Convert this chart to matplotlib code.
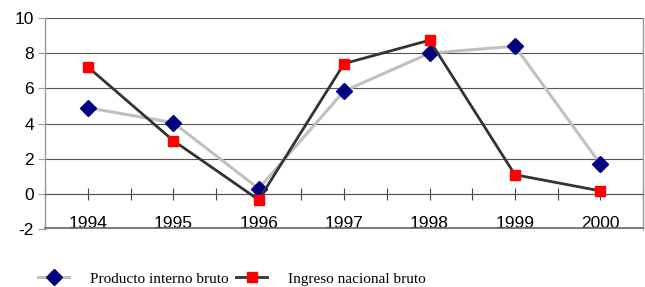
import numpy as np
import matplotlib
matplotlib.use("Agg")
from matplotlib import pyplot as plt
from matplotlib.lines import Line2D

years = ['1994', '1995', '1996', '1997', '1998', '1999', '2000']
pib = [4.9, 4.05, 0.3, 5.85, 8.0, 8.4, 1.7]
inb = [7.22, 3.03, -0.34, 7.41, 8.74, 1.09, 0.17]
y_ticks = [-2, 0, 2, 4, 6, 8, 10]

fig = plt.figure(figsize=(6.45, 2.87), dpi=100)
ax = fig.add_axes([0.07, 0.202, 0.927, 0.735])

x = np.arange(len(years))
ax.plot(x, pib, color='#c0c0c0', lw=2.2, marker='D', ms=8.5,
        mfc='#000080', mec='#000080', label='Producto interno bruto', zorder=3)
ax.plot(x, inb, color='#333333', lw=2.0, marker='s', ms=6.5,
        mfc='#ff0000', mec='#ff0000', label='Ingreso nacional bruto', zorder=4)

ax.set_xlim(-0.5, len(years) - 0.5)
ax.set_ylim(y_ticks[0], y_ticks[-1])
ax.set_yticks(y_ticks)
ax.set_yticklabels([str(v) for v in y_ticks], fontfamily='Liberation Sans', fontsize=12.5)
ax.yaxis.grid(True, color='#555555', lw=0.8)
ax.set_axisbelow(True)
ax.tick_params(axis='y', length=5, color='#999999', pad=3)
# bottom frame line of the plot area
ax.add_line(Line2D([0, 1], [0.003, 0.003], transform=ax.transAxes,
                   color='#666666', lw=1.2, clip_on=False, zorder=5))

# category axis crosses at zero
ax.spines['bottom'].set_position(('data', 0))
ax.spines['bottom'].set_color('#555555')
ax.spines['bottom'].set_linewidth(0.8)
ax.set_xticks(np.arange(-0.5, len(years), 0.5))
ax.set_xticklabels([])
ax.tick_params(axis='x', direction='inout', length=8, color='#444444', width=0.8)
for i, yr in enumerate(years):
    ax.annotate(yr, xy=(x[i], 0), xycoords='data', xytext=(0, -21),
                textcoords='offset points', ha='center', va='center',
                fontfamily='Liberation Sans', fontsize=12.5)
ax.spines['top'].set_visible(False)
for s in ['left', 'right']:
    ax.spines[s].set_color('#999999')
    ax.spines[s].set_linewidth(1.0)

fig.legend(loc='center', bbox_to_anchor=(0.36, 0.028), ncol=2, frameon=False,
           handlelength=2.0, handletextpad=1.4, columnspacing=0.5,
           prop={'family': 'Liberation Serif', 'size': 11})

fig.savefig('out.png', dpi=100)
